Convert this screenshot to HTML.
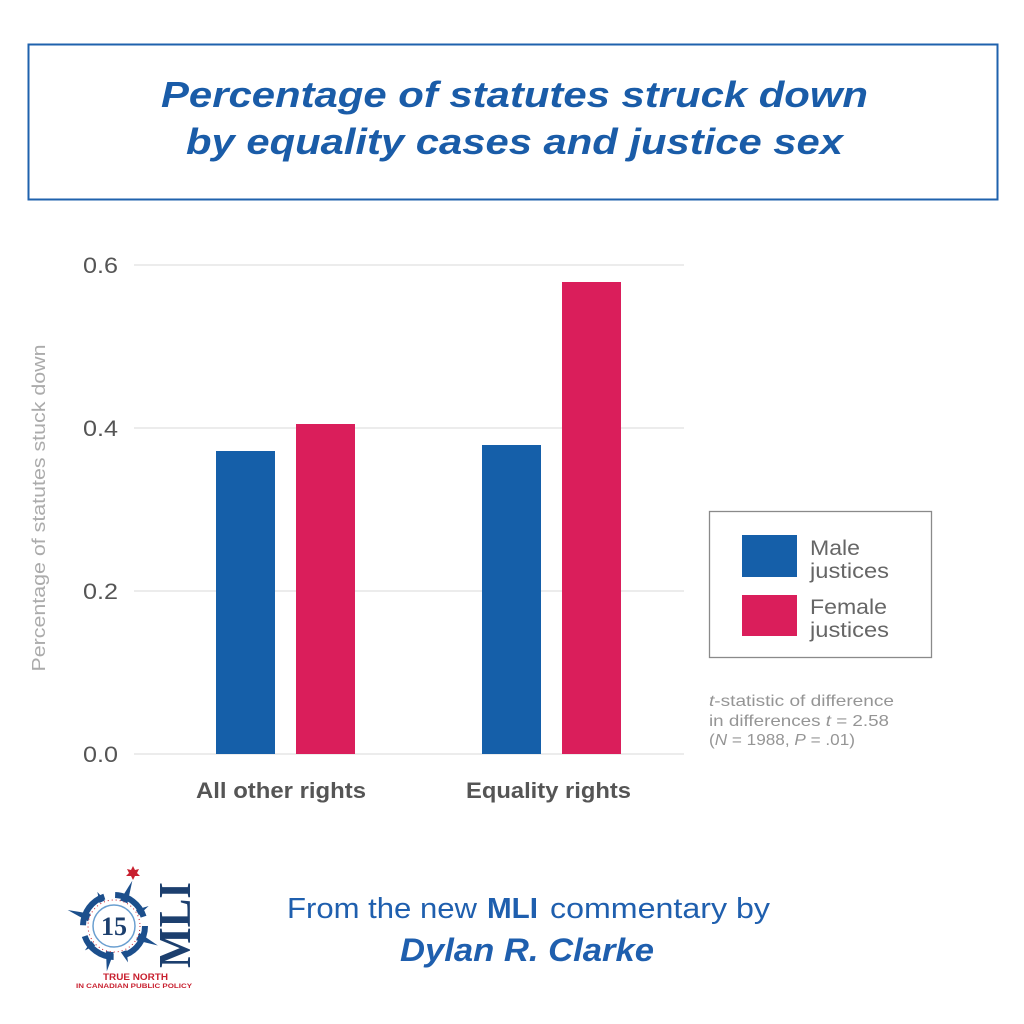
<!DOCTYPE html>
<html>
<head>
<meta charset="utf-8">
<style>
  html,body{margin:0;padding:0;background:#ffffff;}
  svg{display:block;}
  .s{font-family:"Liberation Sans", sans-serif;}
  .serif{font-family:"Liberation Serif", serif;}
</style>
</head>
<body>
<svg width="1024" height="1024" viewBox="0 0 1024 1024" xmlns="http://www.w3.org/2000/svg">
  <rect x="0" y="0" width="1024" height="1024" fill="#ffffff"/>

  <!-- Title box -->
  <rect x="28.5" y="44.5" width="969" height="155" fill="none" stroke="#1f62ad" stroke-width="2"/>
  <text class="s" x="161" y="107" font-size="36" font-weight="bold" font-style="italic" fill="#1a5ca8" textLength="707" lengthAdjust="spacingAndGlyphs">Percentage of statutes struck down</text>
  <text class="s" x="186" y="154" font-size="36" font-weight="bold" font-style="italic" fill="#1a5ca8" textLength="657" lengthAdjust="spacingAndGlyphs">by equality cases and justice sex</text>

  <!-- Gridlines -->
  <g stroke="#e6e6e6" stroke-width="1.5">
    <line x1="134" y1="265" x2="684" y2="265"/>
    <line x1="134" y1="428" x2="684" y2="428"/>
    <line x1="134" y1="591" x2="684" y2="591"/>
    <line x1="134" y1="754" x2="684" y2="754"/>
  </g>

  <!-- Tick labels -->
  <g class="s" font-size="22" fill="#555555">
    <text x="83" y="273" textLength="35" lengthAdjust="spacingAndGlyphs">0.6</text>
    <text x="83" y="436" textLength="35" lengthAdjust="spacingAndGlyphs">0.4</text>
    <text x="83" y="599" textLength="35" lengthAdjust="spacingAndGlyphs">0.2</text>
    <text x="83" y="762" textLength="35" lengthAdjust="spacingAndGlyphs">0.0</text>
  </g>

  <!-- Y axis title -->
  <text class="s" transform="translate(45,508) rotate(-90)" text-anchor="middle" font-size="18" fill="#ababab" textLength="327" lengthAdjust="spacingAndGlyphs">Percentage of statutes stuck down</text>

  <!-- Bars -->
  <rect x="216" y="451" width="59" height="303" fill="#155fa9"/>
  <rect x="296" y="424" width="59" height="330" fill="#da1e5b"/>
  <rect x="482" y="445" width="59" height="309" fill="#155fa9"/>
  <rect x="562" y="282" width="59" height="472" fill="#da1e5b"/>

  <!-- X labels -->
  <text class="s" x="196" y="798" font-size="22" font-weight="bold" fill="#555555" textLength="170" lengthAdjust="spacingAndGlyphs">All other rights</text>
  <text class="s" x="466" y="798" font-size="22" font-weight="bold" fill="#555555" textLength="165" lengthAdjust="spacingAndGlyphs">Equality rights</text>

  <!-- Legend -->
  <rect x="709.5" y="511.5" width="222" height="146" fill="#ffffff" stroke="#8a8a8a" stroke-width="1.3"/>
  <rect x="742" y="535" width="55" height="42" fill="#155fa9"/>
  <rect x="742" y="595" width="55" height="41" fill="#da1e5b"/>
  <g class="s" font-size="21" fill="#666666">
    <text x="810" y="555" textLength="50" lengthAdjust="spacingAndGlyphs">Male</text>
    <text x="810" y="578" textLength="79" lengthAdjust="spacingAndGlyphs">justices</text>
    <text x="810" y="614" textLength="77" lengthAdjust="spacingAndGlyphs">Female</text>
    <text x="810" y="637" textLength="79" lengthAdjust="spacingAndGlyphs">justices</text>
  </g>

  <!-- Annotation -->
  <g class="s" font-size="16" fill="#959595">
    <text x="709" y="706" textLength="185" lengthAdjust="spacingAndGlyphs"><tspan font-style="italic">t</tspan>-statistic of difference</text>
    <text x="709" y="726" textLength="180" lengthAdjust="spacingAndGlyphs">in differences <tspan font-style="italic">t</tspan> = 2.58</text>
    <text x="709" y="745" textLength="146" lengthAdjust="spacingAndGlyphs">(<tspan font-style="italic">N</tspan> = 1988, <tspan font-style="italic">P</tspan> = .01)</text>
  </g>

  <!-- Logo -->
  <g transform="translate(114,926)">
    <g fill="#1c4f8c">
      <polygon points="-4,-26 4,-26 0,-49" transform="rotate(22)"/>
      <polygon points="-4,-26 4,-26 0,-49" transform="rotate(-71)"/>
      <polygon points="-4,-26 4,-26 0,-48" transform="rotate(114)"/>
      <polygon points="-4,-26 4,-26 0,-46" transform="rotate(189)"/>
      <polygon points="-3,-27 3,-27 0,-38" transform="rotate(-26)"/>
      <polygon points="-3,-27 3,-27 0,-40" transform="rotate(60)"/>
      <polygon points="-3,-27 3,-27 0,-38" transform="rotate(230)"/>
      <polygon points="-3,-27 3,-27 0,-39" transform="rotate(159)"/>
    </g>
    <circle r="31" fill="none" stroke="#1c4f8c" stroke-width="6" stroke-dasharray="38 11"/>
    <circle r="26" fill="#ffffff" stroke="#c8202f" stroke-width="1" stroke-dasharray="1 3"/>
    <circle r="21" fill="#ffffff" stroke="#6a9fd0" stroke-width="1.5"/>
    <text class="serif" x="0" y="9" text-anchor="middle" font-weight="bold" font-size="26" fill="#1c3f6e">15</text>
  </g>
  <polygon points="133,866 135,870 139,869 137,873 140,876 135,876 133,880 131,876 126,876 129,873 127,869 131,870" fill="#c8202f"/>
  <text class="serif" transform="translate(190,925) rotate(-90)" text-anchor="middle" font-weight="bold" font-size="46" fill="#1c3f6e" textLength="86" lengthAdjust="spacingAndGlyphs">MLI</text>
  <text class="s" x="103" y="980" font-size="9" font-weight="bold" fill="#c8202f" textLength="65" lengthAdjust="spacingAndGlyphs">TRUE NORTH</text>
  <text class="s" x="76" y="988" font-size="6.5" font-weight="bold" fill="#c8202f" textLength="116" lengthAdjust="spacingAndGlyphs">IN CANADIAN PUBLIC POLICY</text>

  <!-- Footer -->
  <text class="s" x="287" y="918" font-size="29" fill="#1f5fae" textLength="190" lengthAdjust="spacingAndGlyphs">From the new</text>
  <text class="s" x="487" y="918" font-size="29" font-weight="bold" fill="#1f5fae" textLength="51" lengthAdjust="spacingAndGlyphs">MLI</text>
  <text class="s" x="550" y="918" font-size="29" fill="#1f5fae" textLength="220" lengthAdjust="spacingAndGlyphs">commentary by</text>
  <text class="s" x="400" y="961" font-size="32" font-weight="bold" font-style="italic" fill="#1f5fae" textLength="254" lengthAdjust="spacingAndGlyphs">Dylan R. Clarke</text>
</svg>
</body>
</html>
